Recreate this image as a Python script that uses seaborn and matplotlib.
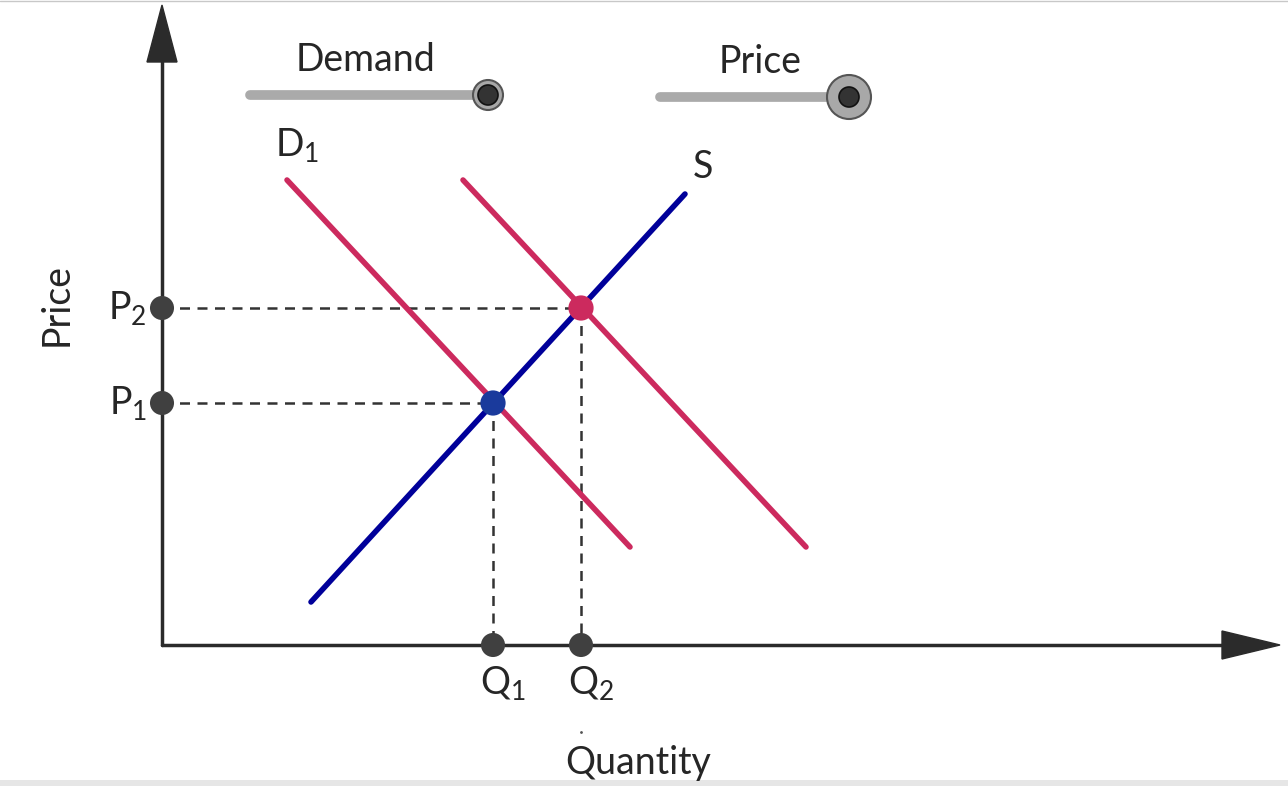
import numpy as np
import pandas as pd
import seaborn as sns
import matplotlib.pyplot as plt
from matplotlib.patches import Polygon, Circle

sns.set_theme(style="white")
plt.rcParams["font.family"] = ["Lato", "DejaVu Sans"]
plt.rcParams["mathtext.fontset"] = "custom"
plt.rcParams["mathtext.rm"] = "Lato"
plt.rcParams["mathtext.it"] = "Lato"

# curve end points (quantity, price), origin at the axes corner
d1_q = [125, 468]
d1_p = [465, 98]
d2_q = [301, 644]
d2_p = [465, 98]
s_q = [149, 523]
s_p = [43, 451]

# equilibria
eq_labels = ["1", "2"]
eq_q = [331, 419]
eq_p = [242, 337]
eq_colors = ["#1a3a9c", "#cc2a5e"]

dark = "#404040"
red = "#cc2a5e"
blue = "#00009a"
txt = "#262626"

fig = plt.figure(figsize=(12.88, 7.86), dpi=100)
ax = fig.add_axes([0, 0, 1, 1])
ax.set_xlim(-162, 1126)
ax.set_ylim(-141, 645)
ax.axis("off")

# frame lines of the page
ax.axhline(644.5, color="#c8c8c8", lw=1)
ax.axhspan(-141, -135, color="#e6e6e6", lw=0)

# axes with arrows
ax.plot([0, 0], [0, 590], color="#2b2b2b", lw=2.5)
ax.plot([0, 1065], [0, 0], color="#2b2b2b", lw=2.5)
ax.add_patch(Polygon([[-15, 583], [15, 583], [0, 640]], closed=True, color="#2b2b2b"))
ax.add_patch(Polygon([[1060, 14], [1060, -14], [1118, 0]], closed=True, color="#2b2b2b"))

curves = pd.DataFrame({
    "q": d1_q + d2_q + s_q,
    "p": d1_p + d2_p + s_p,
    "curve": ["D1"] * 2 + ["D2"] * 2 + ["S"] * 2,
})
sns.lineplot(data=curves, x="q", y="p", hue="curve", units="curve", estimator=None,
             palette={"D1": red, "D2": red, "S": blue}, lw=4, legend=False, ax=ax)

# dashed guides
for q, p in zip(eq_q, eq_p):
    ax.plot([0, q], [p, p], ls=(0, (4, 3)), color="#333333", lw=1.8, zorder=1)
    ax.plot([q, q], [p, 0], ls=(0, (4, 3)), color="#333333", lw=1.8, zorder=1)

# points on axes
sns.scatterplot(x=[0] * 2 + eq_q, y=eq_p + [0] * 2, s=300, color=dark,
                edgecolor="none", ax=ax, zorder=5)
sns.scatterplot(x=eq_q, y=eq_p, hue=eq_labels, palette=eq_colors, s=330,
                edgecolor="none", legend=False, ax=ax, zorder=6)

fs = 27
for lab, q, p in zip(eq_labels, eq_q, eq_p):
    ax.text(-15, p, r"P$_{%s}$" % lab, ha="right", va="center", fontsize=fs, color=txt)
    ax.text(q + 10, -38, r"Q$_{%s}$" % lab, ha="center", va="center", fontsize=fs, color=txt)

ax.text(135, 500, r"D$_{1}$", ha="center", va="center", fontsize=fs, color=txt)
ax.text(541, 478, "S", ha="center", va="center", fontsize=fs, color=txt)
ax.text(-105, 340, "Price", ha="center", va="center", rotation=90, fontsize=fs, color=txt)
ax.text(476, -118, "Quantity", ha="center", va="center", fontsize=fs, color=txt)
ax.plot([419], [-87], marker=".", ms=2, color="#555555")

# sliders
slider_names = ["Demand", "Price"]
slider_x0 = [88, 498]
slider_x1 = [326, 687]
slider_y = [550, 548]
ring_r = [15, 22]
label_x = [204, 598]
for name, x0, x1, y, r, lx in zip(slider_names, slider_x0, slider_x1, slider_y, ring_r, label_x):
    ax.plot([x0, x1], [y, y], color="#aaaaaa", lw=7, solid_capstyle="round")
    ax.add_patch(Circle((x1, y), r, facecolor="#a8a8a8", edgecolor="#555555", lw=1.5, zorder=4))
    ax.add_patch(Circle((x1, y), 10, facecolor="#333333", edgecolor="#111111", lw=1.2, zorder=5))
    ax.text(lx, y + 35, name, ha="center", va="center", fontsize=fs, color=txt)

fig.savefig("out.png", dpi=100)
